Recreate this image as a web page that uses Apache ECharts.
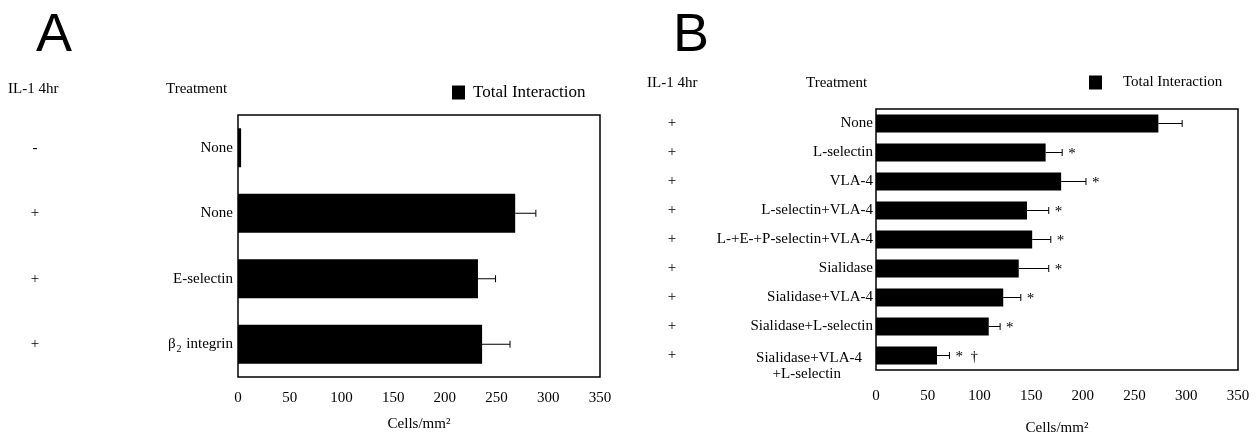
<!DOCTYPE html>
<html>
<head>
<meta charset="utf-8">
<script src="https://cdn.jsdelivr.net/npm/echarts@6/dist/echarts.min.js"></script>
<style>
  html, body { margin: 0; padding: 0; background: #fff; }
  #box { width: 1259px; height: 436px; }
</style>
</head>
<body>
<div id="box"></div>
<script>
// panel A
const treatA = ['None', 'None', 'E-selectin', 'β2 integrin'];
const il1A = ['-', '+', '+', '+'];
const meanA = [3, 268, 232, 236];
const semA = [0, 20, 17, 27];

// panel B
const treatB = ['None', 'L-selectin', 'VLA-4', 'L-selectin+VLA-4', 'L-+E-+P-selectin+VLA-4',
  'Sialidase', 'Sialidase+VLA-4', 'Sialidase+L-selectin', 'Sialidase+VLA-4\n+L-selectin'];
const il1B = ['+', '+', '+', '+', '+', '+', '+', '+', '+'];
const meanB = [273, 164, 179, 146, 151, 138, 123, 109, 59];
const semB = [23, 16, 24, 21, 18, 29, 17, 11, 12];
const sigB = ['', '*', '*', '*', '*', '*', '*', '*', '*  †'];

const xTicks = { min: 0, max: 350, interval: 50 };

const serif = 'Liberation Serif';
const txt = { fontFamily: serif, fontSize: 15, color: '#000' };

function errData(mean, sem) {
  return mean.map((m, i) => [m, i, m + sem[i]]);
}

function errRenderer(sem, sig) {
  return function (params, api) {
    const i = params.dataIndex;
    const yi = api.value(1);
    const p0 = api.coord([api.value(0), yi]);
    const p1 = api.coord([api.value(2), yi]);
    const kids = [];
    if (sem[i] > 0) {
      kids.push({ type: 'line', shape: { x1: p0[0], y1: p0[1], x2: p1[0], y2: p1[1] }, style: { stroke: '#000', lineWidth: 1 } });
      kids.push({ type: 'line', shape: { x1: p1[0], y1: p1[1] - 3.5, x2: p1[0], y2: p1[1] + 3.5 }, style: { stroke: '#000', lineWidth: 1 } });
    }
    if (sig && sig[i]) {
      kids.push({ type: 'text', style: { x: p1[0] + 6, y: p1[1] + 2, text: sig[i], fontFamily: serif, fontSize: 15, fill: '#000', verticalAlign: 'middle', align: 'left' } });
    }
    return { type: 'group', children: kids };
  };
}

const chart = echarts.init(document.getElementById('box'));

const xAxisBase = (grid, margin, gap) => ({
  gridIndex: grid,
  type: 'value',
  min: xTicks.min, max: xTicks.max, interval: xTicks.interval,
  axisLine: { show: false },
  axisTick: { show: false },
  splitLine: { show: false },
  axisLabel: Object.assign({ margin: margin }, txt),
  name: 'Cells/mm²',
  nameLocation: 'middle',
  nameGap: gap,
  nameTextStyle: txt
});

const catAxis = (grid, data, label) => ({
  gridIndex: grid,
  type: 'category',
  inverse: true,
  data: data,
  axisLine: { show: false },
  axisTick: { show: false },
  axisLabel: Object.assign({ interval: 0, hideOverlap: false }, txt, label)
});

const signAxis = (grid, data, offset) => ({
  gridIndex: grid,
  type: 'category',
  inverse: true,
  position: 'left',
  offset: offset,
  data: data,
  axisLine: { show: false },
  axisTick: { show: false },
  axisLabel: Object.assign({ margin: 0, align: 'center', interval: 0 }, txt)
});

const option = {
  animation: false,
  backgroundColor: '#fff',
  textStyle: { fontFamily: serif },
  grid: [
    { left: 238, top: 115, width: 362, height: 262, show: true, borderColor: '#000', borderWidth: 1.5,
      backgroundColor: 'transparent', outerBoundsMode: 'none' },
    { left: 876, top: 109, width: 362, height: 261, show: true, borderColor: '#000', borderWidth: 1.5,
      backgroundColor: 'transparent', outerBoundsMode: 'none' }
  ],
  legend: [
    { data: ['Total Interaction'], left: 452, top: 84, padding: 0, itemWidth: 13, itemHeight: 14, icon: 'rect',
      textStyle: Object.assign({}, txt, { fontSize: 17, padding: [0, 0, 0, 3] }) },
    { data: ['Total Interaction'], left: 1089, top: 75, padding: 0, itemWidth: 13, itemHeight: 14, icon: 'rect',
      textStyle: Object.assign({}, txt, { padding: [0, 0, 0, 16] }) }
  ],
  xAxis: [xAxisBase(0, 14, 40), xAxisBase(1, 19, 51)],
  yAxis: [
    catAxis(0, treatA, {
      margin: 5,
      formatter: v => v === 'β2 integrin' ? '{t|β}{s|2}{t| integrin}' : v,
      rich: {
        t: { fontFamily: serif, fontSize: 15, color: '#000', lineHeight: 20 },
        s: { fontFamily: serif, fontSize: 10, color: '#000', verticalAlign: 'bottom', lineHeight: 20, padding: [0, 1, 0, 1] }
      }
    }),
    signAxis(0, il1A, 203),
    catAxis(1, treatB, {
      margin: 3,
      formatter: v => {
        if (v.indexOf('\n') < 0) return v;
        const parts = v.split('\n');
        return '{e| }\n{a|' + parts[0] + '}\n{b|' + parts[1] + '}';
      },
      rich: {
        e: { fontFamily: serif, fontSize: 15, lineHeight: 22 },
        a: { fontFamily: serif, fontSize: 15, color: '#000', lineHeight: 16, padding: [0, 11, 0, 0] },
        b: { fontFamily: serif, fontSize: 15, color: '#000', lineHeight: 16, padding: [0, 32, 0, 0] }
      }
    }),
    signAxis(1, il1B, 204)
  ],
  graphic: [
    { type: 'text', left: 36, top: 9, style: { text: 'A', fontFamily: 'Liberation Sans', fontSize: 54, fill: '#000' } },
    { type: 'text', left: 673, top: 9, style: { text: 'B', fontFamily: 'Liberation Sans', fontSize: 54, fill: '#000' } },
    { type: 'text', left: 8, top: 82, style: { text: 'IL-1 4hr', fontFamily: serif, fontSize: 15, fill: '#000' } },
    { type: 'text', left: 166, top: 82, style: { text: 'Treatment', fontFamily: serif, fontSize: 15, fill: '#000' } },
    { type: 'text', left: 647, top: 76, style: { text: 'IL-1 4hr', fontFamily: serif, fontSize: 15, fill: '#000' } },
    { type: 'text', left: 806, top: 76, style: { text: 'Treatment', fontFamily: serif, fontSize: 15, fill: '#000' } }
  ],
  series: [
    { name: 'Total Interaction', type: 'bar', xAxisIndex: 0, yAxisIndex: 0, data: meanA, barWidth: 39, itemStyle: { color: '#000' } },
    { type: 'custom', xAxisIndex: 0, yAxisIndex: 0, data: errData(meanA, semA), encode: { x: [0, 2], y: 1 }, renderItem: errRenderer(semA, null), z: 5 },
    { name: 'Total Interaction', type: 'bar', xAxisIndex: 1, yAxisIndex: 2, data: meanB, barWidth: 18, itemStyle: { color: '#000' } },
    { type: 'custom', xAxisIndex: 1, yAxisIndex: 2, data: errData(meanB, semB), encode: { x: [0, 2], y: 1 }, renderItem: errRenderer(semB, sigB), z: 5 }
  ]
};

chart.setOption(option);
</script>
</body>
</html>
